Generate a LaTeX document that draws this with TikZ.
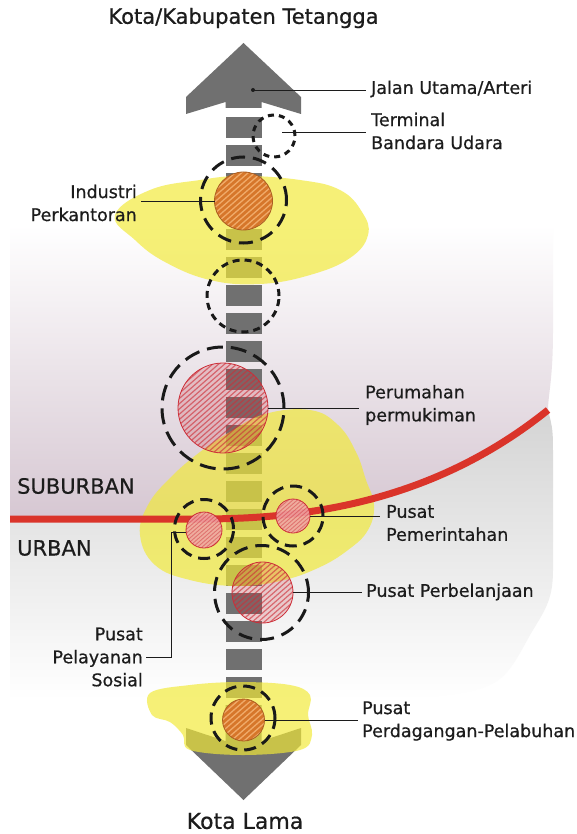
\documentclass[tikz,border=0pt]{standalone}
\usepackage{fontspec}
\setmainfont{DejaVu Sans}
\newfontfamily\lblfont{DejaVu Sans}[FakeBold=0.6]
\usetikzlibrary{calc}

\definecolor{roadgray}{RGB}{112,112,112}
\definecolor{blobyellow}{RGB}{242,234,55}
\definecolor{mauve}{RGB}{214,199,210}
\definecolor{urbangray}{RGB}{212,212,212}
\definecolor{borderred}{RGB}{218,52,42}
\definecolor{hatchred}{RGB}{205,45,55}
\definecolor{lightpink}{RGB}{240,165,165}
\definecolor{diskorange}{RGB}{214,118,42}
\definecolor{hatchorange}{RGB}{240,170,105}
\definecolor{inktext}{RGB}{28,28,28}

\tikzset{
  ringlong/.style={circle, draw=black!90, line width=3pt, dash pattern=on 14pt off 8pt,
    inner sep=0pt, outer sep=0pt},
  ringshort/.style={circle, draw=black!90, line width=3pt, dash pattern=on 6pt off 5pt,
    inner sep=0pt, outer sep=0pt},
  pinkdisk/.style={circle, inner sep=0pt, outer sep=0pt, draw=hatchred, line width=0.8pt,
    fill=hatchred, fill opacity=0.2,
    path picture={\foreach \k in {-24,...,24}{
      \draw[hatchred, draw opacity=0.62, line width=1.2pt]
        ($(path picture bounding box.center)+(\k*6-80,80)$) -- ++(160,-140);}}},
  smallpink/.style={circle, inner sep=0pt, outer sep=0pt, draw=hatchred, line width=0.8pt,
    fill=lightpink, fill opacity=0.88,
    path picture={\foreach \k in {-24,...,24}{
      \draw[hatchred, draw opacity=0.45, line width=0.9pt]
        ($(path picture bounding box.center)+(\k*4.5-60,60)$) -- ++(120,-105);}}},
  orangedisk/.style={circle, inner sep=0pt, outer sep=0pt, draw=diskorange!80!black,
    line width=0.8pt, fill=diskorange,
    path picture={\foreach \k in {-24,...,24}{
      \draw[hatchorange, line width=1.3pt]
        ($(path picture bounding box.center)+(\k*6.5-80,80)$) -- ++(160,-140);}}},
  blob/.style={fill=blobyellow, fill opacity=0.68},
  leader/.style={draw=inktext, line width=0.9pt},
  lbl/.style={font=\lblfont\fontsize{17.5}{23}\selectfont, text=inktext, inner sep=0pt},
  zone/.style={font=\lblfont\fontsize{21}{25}\selectfont, text=inktext, inner sep=0pt},
  endlbl/.style={font=\lblfont\fontsize{21}{25}\selectfont, text=inktext, inner sep=0pt},
}

\begin{document}
\begin{tikzpicture}[x=1pt,y=-1pt]
\useasboundingbox (0,0) rectangle (577,834);
\fill[white] (0,0) rectangle (577,834);

% suburban belt
\shade[top color=white, bottom color=mauve]
  (10,225) -- (553,225) -- (553,330) .. controls (553,380) and (548,395) .. (548,410)
  .. controls (430,505) and (300,519) .. (200,519) -- (10,519) -- cycle;
% urban belt
\shade[top color=urbangray, bottom color=white]
  (10,519) -- (200,519) .. controls (300,519) and (430,505) .. (548,410)
  .. controls (553,430) .. (553,460) -- (553,570) .. controls (553,600) and (545,610) .. (530,635)
  .. controls (500,690) .. (400,700) -- (10,700) -- cycle;

% main road: arrow heads and dashed shaft
\fill[roadgray] (243.5,43) -- (301,97) -- (301,114) -- (261.5,102) -- (261.5,108)
  -- (225.5,108) -- (225.5,102) -- (186,114) -- (186,97) -- cycle;
\foreach \k in {0,...,20}
  \fill[roadgray] (225.5,{117+28*\k}) rectangle ++(36,21);
\fill[roadgray] (225.5,705) -- (261.5,705) -- (261.5,741) -- (301,728) -- (301,745)
  -- (243.5,800) -- (186,745) -- (186,728) -- (225.5,741) -- cycle;

% activity zones
\fill[blob] plot[smooth cycle, tension=0.7] coordinates {
  (150,190) (200,180) (243,176) (300,180) (340,190) (362,212) (368,235) (350,258)
  (310,275) (260,284) (210,280) (165,262) (135,240) (115,215)};
\fill[blob] plot[smooth cycle, tension=0.7] coordinates {
  (230,432) (265,414) (310,410) (338,425) (356,452) (366,480) (374,505) (368,530)
  (348,550) (318,568) (280,581) (237,586) (190,580) (155,565) (140,535) (148,505)
  (170,478) (200,452)};
\fill[blob] plot[smooth cycle, tension=0.6] coordinates {
  (150,693) (190,685) (240,682) (290,685) (310,695) (308,715) (312,735) (300,750)
  (243,755) (190,750) (183,735) (170,722) (152,715)};

% urban / suburban border
\draw[borderred, line width=7pt]
  (10,519) -- (200,519) .. controls (300,519) and (430,505) .. (548,410);

% centres
\node[orangedisk, minimum size=58] (indIn) at (243.5,201) {};
\node[pinkdisk, minimum size=90] (rumahIn) at (223,408) {};
\node[smallpink, minimum size=36] (sosIn) at (204,530) {};
\node[smallpink, minimum size=34] (pemIn) at (293,516) {};
\node[pinkdisk, minimum size=61] (belanjaIn) at (262.5,592.5) {};
\node[orangedisk, minimum size=42] (dagangIn) at (243.5,720) {};

\node[ringshort, minimum size=42] (termRing) at (274,136) {};
\node[ringlong, minimum size=86] (indRing) at (243.5,200) {};
\node[ringshort, minimum size=72, dash pattern=on 7pt off 5pt] (midRing) at (243,296) {};
\node[ringlong, minimum size=122, dash pattern=on 16pt off 8pt] (rumahRing) at (223,408) {};
\node[ringlong, minimum size=59, dash pattern=on 12pt off 7pt] (sosRing) at (204,529) {};
\node[ringlong, minimum size=60, dash pattern=on 12pt off 7pt] (pemRing) at (293,516) {};
\node[ringlong, minimum size=94] (belanjaRing) at (261.5,592.5) {};
\node[ringlong, minimum size=64, dash pattern=on 12pt off 7pt] (dagangRing) at (243,718) {};

% labels
\node[endlbl] (title) at (243.5,18) {Kota/Kabupaten Tetangga};
\node[endlbl, font=\lblfont\fontsize{22}{26}\selectfont] (oldtown) at (245,821) {Kota Lama};
\node[lbl, anchor=west] (jalanL) at (371,89) {Jalan Utama/Arteri};
\node[lbl, anchor=west, align=left] (termL) at (371,131) {Terminal\\Bandara Udara};
\node[lbl, anchor=east, align=right] (indL) at (137,203) {Industri\\Perkantoran};
\node[lbl, anchor=west, align=left] (rumahL) at (365,405) {Perumahan\\permukiman};
\node[zone, anchor=west] (suburbL) at (17,486) {SUBURBAN};
\node[zone, anchor=west] (urbanL) at (17,548) {URBAN};
\node[lbl, anchor=west, align=left] (pemL) at (386,523) {Pusat\\Pemerintahan};
\node[lbl, anchor=west] (belanjaL) at (366,592) {Pusat Perbelanjaan};
\node[lbl, anchor=east, align=right] (sosL) at (143,657) {Pusat\\Pelayanan\\Sosial};
\node[lbl, anchor=west, align=left] (dagangL) at (362,721) {Pusat\\Perdagangan-Pelabuhan};

% leader lines
\coordinate (jalanDot) at (253,90);
\coordinate (termPt) at (282,132);
\coordinate (sosBend) at (171,532);
\fill[inktext] (jalanDot) circle (2);
\draw[leader, shorten >=5pt] (jalanDot) -- (jalanDot -| jalanL.west);
\draw[leader, shorten >=5pt] (termPt) -- (termPt -| termL.west);
\draw[leader, shorten <=4pt] (indL.east |- indIn.west) -- (indIn.west);
\draw[leader, shorten >=6pt] (rumahIn.east) -- (rumahIn.east -| rumahL.west);
\draw[leader, shorten >=6pt] (pemIn.east) -- (pemIn.east -| pemL.west);
\draw[leader, shorten >=4pt] (belanjaIn.east) -- (belanjaIn.east -| belanjaL.west);
\draw[leader, shorten >=4pt] (dagangIn.east) -- (dagangIn.east -| dagangL.west);
\draw[leader, shorten >=3pt] (sosIn.west |- sosBend) -- (sosBend) |- (sosL.east);
\end{tikzpicture}
\end{document}
